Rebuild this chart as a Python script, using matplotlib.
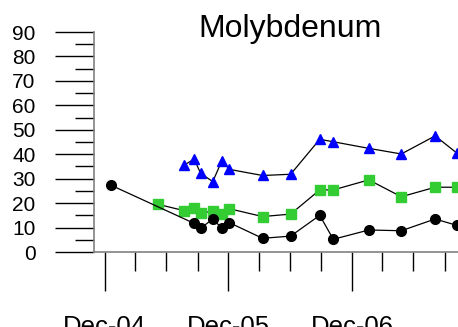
import matplotlib
matplotlib.use('Agg')
import matplotlib.pyplot as plt
import matplotlib.dates as mdates
import numpy as np

plt.rcParams['font.family'] = ['Liberation Sans', 'DejaVu Sans']

# sample dates and Mo concentrations
black_dates = ['2004-12-18', '2005-08-22', '2005-09-10', '2005-10-16', '2005-11-12',
               '2005-12-04', '2006-03-12', '2006-06-03', '2006-08-28', '2006-10-07',
               '2007-01-20', '2007-04-26', '2007-08-04', '2007-10-07']
black_vals = [27.4, 11.7, 9.7, 13.5, 9.7, 12.0, 5.6, 6.5, 15.0, 5.2, 9.0, 8.7, 13.5, 10.9]

green_dates = ['2005-05-07', '2005-07-24', '2005-08-22', '2005-09-10', '2005-10-16',
               '2005-11-12', '2005-12-04', '2006-03-12', '2006-06-03', '2006-08-28',
               '2006-10-07', '2007-01-20', '2007-04-26', '2007-08-04', '2007-10-07']
green_vals = [19.5, 16.9, 17.9, 15.8, 16.8, 15.5, 17.7, 14.5, 15.5, 25.4, 25.4, 29.5,
              22.6, 26.5, 26.5]

blue_dates = ['2005-07-24', '2005-08-22', '2005-09-10', '2005-10-16', '2005-11-12',
              '2005-12-04', '2006-03-12', '2006-06-03', '2006-08-28', '2006-10-07',
              '2007-01-20', '2007-04-26', '2007-08-04', '2007-10-07']
blue_vals = [35.6, 38.0, 32.2, 28.8, 37.4, 33.8, 31.3, 31.8, 46.1, 45.1, 42.4, 40.1,
             47.5, 40.5]


def to_dates(ds):
    return np.array(ds, dtype='datetime64[D]')


fig = plt.figure(figsize=(4.58, 3.27), dpi=100)
ax = fig.add_axes([94 / 458, 75 / 327, 376 / 458, 220 / 327])

ax.plot(to_dates(blue_dates), blue_vals, color='black', lw=0.9, marker='^',
        ms=7.5, mfc='#0000ff', mec='#0000ff', zorder=3)
ax.plot(to_dates(green_dates), green_vals, color='black', lw=0.9, marker='s',
        ms=7.5, mfc='#33cc33', mec='#33cc33', zorder=3)
ax.plot(to_dates(black_dates), black_vals, color='black', lw=0.9, marker='o',
        ms=7, mfc='black', mec='black', zorder=3)

ax.set_ylim(0, 90)
ax.set_xlim(np.datetime64('2004-10-30'), np.datetime64('2007-11-15'))

ax.set_yticks(np.arange(0, 91, 10))
ax.set_yticks(np.arange(5, 90, 10), minor=True)
ax.xaxis.set_major_locator(mdates.MonthLocator(bymonth=12))
ax.xaxis.set_minor_locator(mdates.MonthLocator(bymonth=[3, 6, 9]))
ax.xaxis.set_major_formatter(mdates.DateFormatter('%b-%y'))

for s in ['top', 'right']:
    ax.spines[s].set_visible(False)
for s in ['left', 'bottom']:
    ax.spines[s].set_color('#808080')
    ax.spines[s].set_linewidth(1.2)

ax.tick_params(axis='both', which='major', direction='out', length=28, width=1,
               color='black')
ax.tick_params(axis='both', which='minor', direction='out', length=14, width=1,
               color='black')
ax.tick_params(axis='y', which='major', pad=14, labelsize=15)
ax.tick_params(axis='x', which='major', pad=17, labelsize=18.5)

fig.text(290 / 458, (327 - 37) / 327, 'Molybdenum', ha='center', va='baseline',
         fontsize=23)

fig.savefig('out.png', dpi=100)
